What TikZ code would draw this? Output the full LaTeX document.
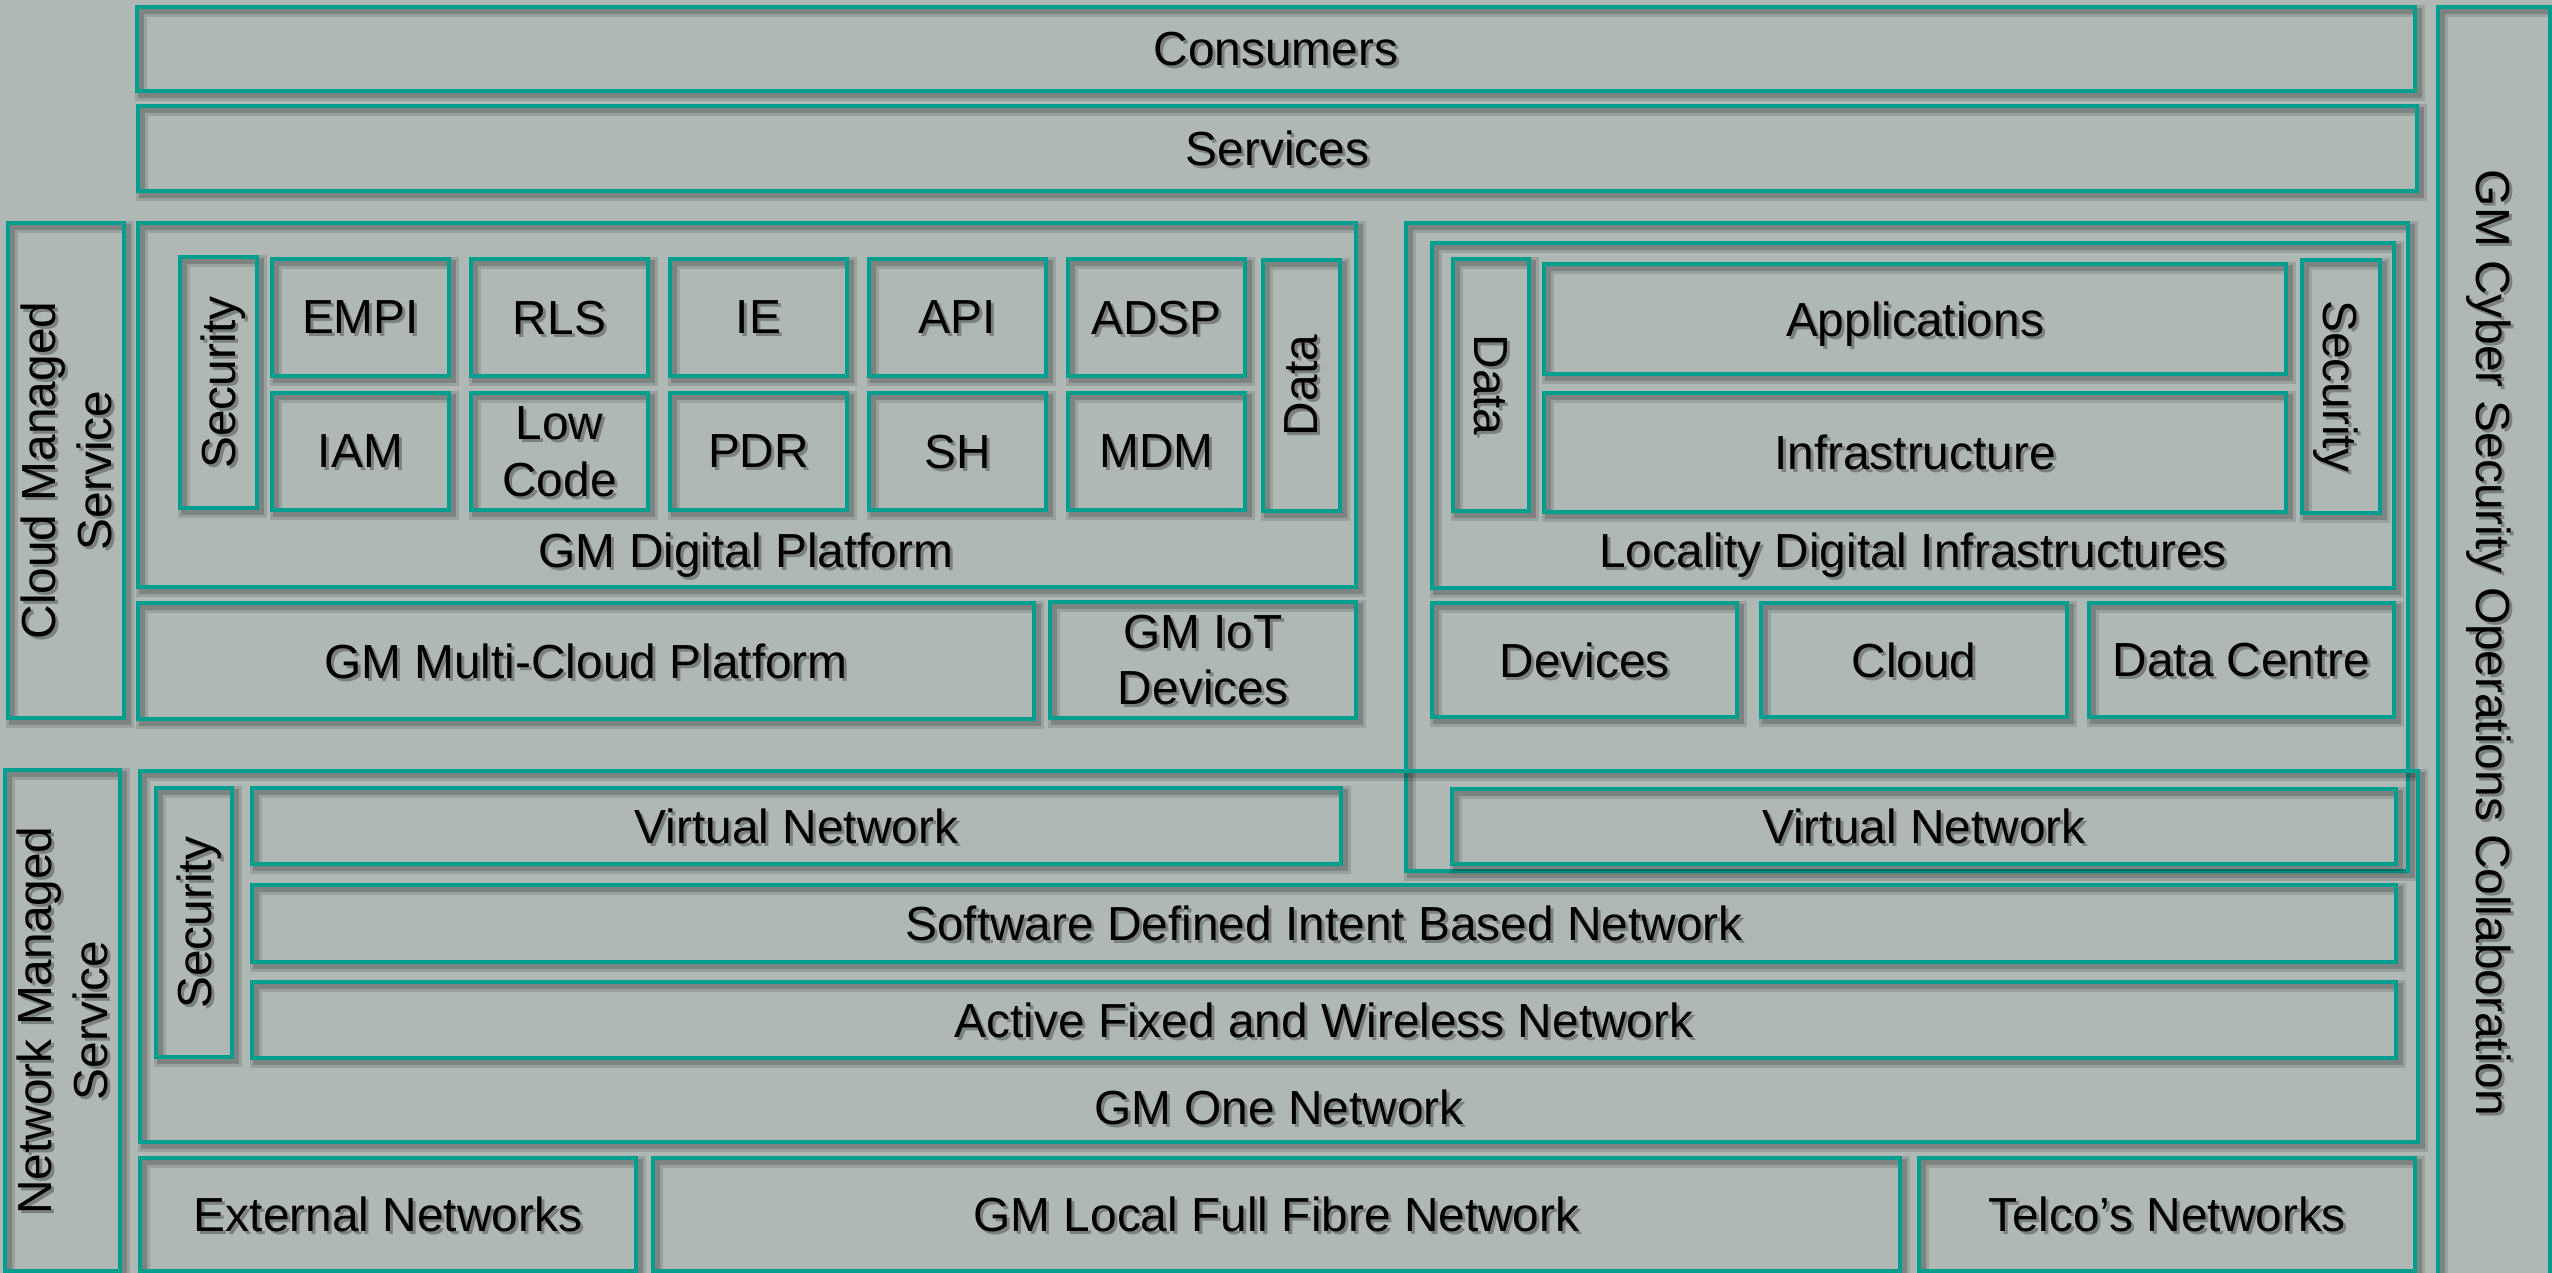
\documentclass[tikz,border=0pt]{standalone}
\usepackage{fontspec}
\setmainfont{Liberation Sans}
\usetikzlibrary{fit}
\definecolor{bgc}{RGB}{175,184,180}
\definecolor{teal1}{RGB}{0,158,142}
\tikzset{
  box/.style={draw=teal1, line width=1pt, inner sep=0pt,
    preaction={draw=black, draw opacity=0.12, line width=3.6pt, transform canvas={shift={(4,4)}}},
    preaction={draw=black, draw opacity=0.18, line width=1.8pt, transform canvas={shift={(4,4)}}}},
  txt/.style={font=\fontsize{13.6}{16}\selectfont, align=center, inner sep=0pt, text depth=0pt}
}
\newcommand{\btext}[4][]{%
  \node[txt, #1, text=black, text opacity=0.3] at ([shift={(3,3)}]#3) {#4};
  \node[txt, #1] (#2) at (#3) {#4};}
\begin{document}
\begin{tikzpicture}[x=0.01cm, y=-0.01cm]
\useasboundingbox (0,0) rectangle (2552,1273);
\clip (0,0) rectangle (2552,1273);
\fill[bgc] (0,0) rectangle (2552,1273);

\node[box, fit={(137,7) (2415,91)}] (consumers) {};
\node[box, fit={(138,106) (2417,191)}] (services) {};
\node[box, fit={(2438,7) (2550,1290)}] (cyber) {};

\node[box, fit={(8,223) (124,718)}] (cms) {};
\node[box, fit={(138,223) (1356,587)}] (gmdp) {};
\node[box, fit={(180,257) (257,508)}] (gmdpsec) {};
\node[box, fit={(1263,260) (1340,511)}] (gmdpdata) {};
\foreach \n [count=\i from 0] in {empi,rls,ie,api,adsp}
  \node[box, fit={({272+199*\i},259) ({449+199*\i},376)}] (\n) {};
\foreach \n [count=\i from 0] in {iam,lowcode,pdr,sh,mdm}
  \node[box, fit={({272+199*\i},393) ({449+199*\i},510)}] (\n) {};
\node[box, fit={(138,603) (1034,719)}] (mcp) {};
\node[box, fit={(1050,602) (1356,718)}] (iot) {};

\node[box, fit={(1406,223) (2408,871)}] (local) {};
\node[box, fit={(1432,243) (2394,588)}] (ldi) {};
\node[box, fit={(1453,259) (1529,511)}] (ldidata) {};
\node[box, fit={(1544,264) (2286,374)}] (apps) {};
\node[box, fit={(1544,393) (2286,512)}] (infra) {};
\node[box, fit={(2302,260) (2380,513)}] (ldisec) {};
\node[box, fit={(1432,603) (1737,717)}] (devices) {};
\node[box, fit={(1761,603) (2067,717)}] (cloud) {};
\node[box, fit={(2089,603) (2394,717)}] (dc) {};

\node[box, fit={(5,770) (120,1271)}] (nms) {};
\node[box, fit={(140,771) (2418,1142)}] (gmon) {};
\node[box, fit={(156,788) (232,1057)}] (gmonsec) {};
\node[box, fit={(252,788) (1341,864)}] (vnl) {};
\node[box, fit={(1452,789) (2396,864)}] (vnr) {};
\node[box, fit={(252,885) (2396,962)}] (sdibn) {};
\node[box, fit={(252,982) (2396,1058)}] (afwn) {};
\node[box, fit={(140,1158) (636,1271)}] (ext) {};
\node[box, fit={(653,1158) (1900,1271)}] (fibre) {};
\node[box, fit={(1919,1158) (2415,1271)}] (telco) {};

\btext{consumers-t}{consumers}{Consumers}
\btext{services-t}{services}{Services}
\btext[rotate=-90]{cyber-t}{2494,643}{GM Cyber Security Operations Collaboration}
\btext[rotate=90]{cms-t}{cms}{Cloud Managed\\Service}
\btext{gmdp-t}{746,550}{GM Digital Platform}
\btext[rotate=90]{gmdpsec-t}{gmdpsec}{Security}
\btext[rotate=90]{gmdpdata-t}{gmdpdata}{Data}
\foreach \n/\t in {empi/EMPI, rls/RLS, ie/IE, api/API, adsp/ADSP,
    iam/IAM, lowcode/{Low\\Code}, pdr/PDR, sh/SH, mdm/MDM}
  {\btext{\n-t}{\n}{\t}}
\btext{mcp-t}{mcp}{GM Multi-Cloud Platform}
\btext{iot-t}{iot}{GM IoT\\Devices}
\btext{ldi-t}{1913,550}{Locality Digital Infrastructures}
\btext[rotate=-90]{ldidata-t}{ldidata}{Data}
\btext{apps-t}{apps}{Applications}
\btext{infra-t}{infra}{Infrastructure}
\btext[rotate=-90]{ldisec-t}{ldisec}{Security}
\btext{devices-t}{devices}{Devices}
\btext{cloud-t}{cloud}{Cloud}
\btext{dc-t}{dc}{Data Centre}
\btext[rotate=90]{nms-t}{nms}{Network Managed\\Service}
\btext{gmon-t}{1279,1107}{GM One Network}
\btext[rotate=90]{gmonsec-t}{gmonsec}{Security}
\btext{vnl-t}{vnl}{Virtual Network}
\btext{vnr-t}{vnr}{Virtual Network}
\btext{sdibn-t}{sdibn}{Software Defined Intent Based Network}
\btext{afwn-t}{afwn}{Active Fixed and Wireless Network}
\btext{ext-t}{ext}{External Networks}
\btext{fibre-t}{fibre}{GM Local Full Fibre Network}
\btext{telco-t}{telco}{Telco’s Networks}
\end{tikzpicture}
\end{document}
